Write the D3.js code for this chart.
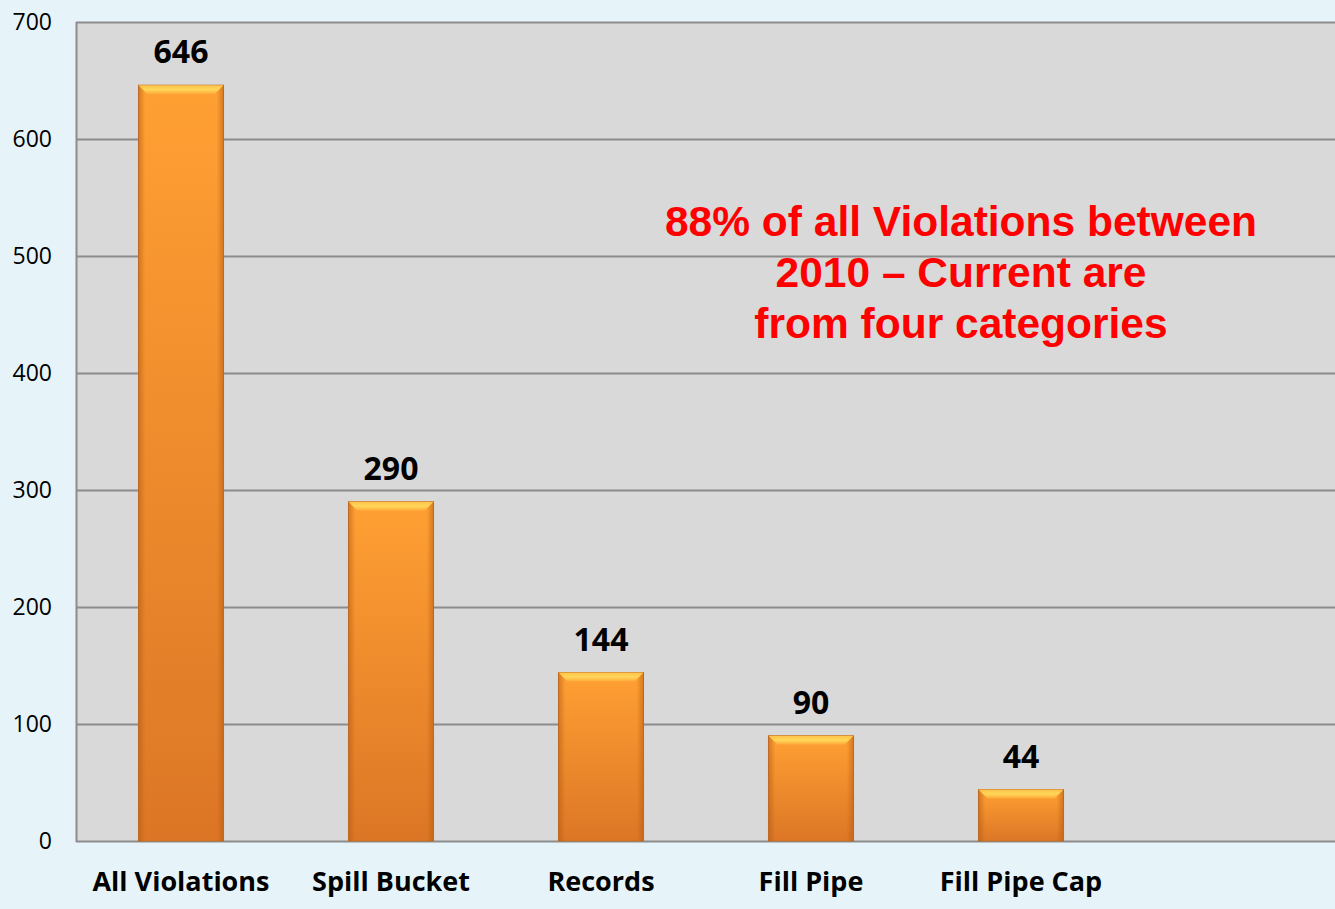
<!DOCTYPE html>
<html>
<head>
<meta charset="utf-8">
<script src="https://cdn.jsdelivr.net/npm/d3@7"></script>
<style>
  body { margin: 0; background: #e6f4fa; }
  svg { display: block; }
</style>
</head>
<body>
<script>
// chart data
const categories = ['All Violations', 'Spill Bucket', 'Records', 'Fill Pipe', 'Fill Pipe Cap'];
const counts = [646, 290, 144, 90, 44];
const yTicks = [0, 100, 200, 300, 400, 500, 600, 700];
const noteLines = ['88% of all Violations between', '2010 \u2013 Current are', 'from four categories'];

const w = 1335;
const h = 909;
const margin = { left: 76, top: 22, bottom: 68 };
const step = 210;

const svg = d3.select('body')
  .append('svg')
  .attr('width', w)
  .attr('height', h);

// gradients for the bars
const defs = svg.append('defs');
const vert = defs.append('linearGradient')
  .attr('id', 'barFill')
  .attr('x1', 0).attr('y1', 0).attr('x2', 0).attr('y2', 1);
vert.append('stop').attr('offset', '0%').attr('stop-color', '#ffa033');
vert.append('stop').attr('offset', '100%').attr('stop-color', '#dc7626');

const sides = defs.append('linearGradient')
  .attr('id', 'barSides')
  .attr('x1', 0).attr('y1', 0).attr('x2', 1).attr('y2', 0);
sides.append('stop').attr('offset', '0%').attr('stop-color', '#b35a10').attr('stop-opacity', 0.55);
sides.append('stop').attr('offset', '8%').attr('stop-color', '#b35a10').attr('stop-opacity', 0);
sides.append('stop').attr('offset', '92%').attr('stop-color', '#b35a10').attr('stop-opacity', 0);
sides.append('stop').attr('offset', '100%').attr('stop-color', '#b35a10').attr('stop-opacity', 0.55);

const bevel = defs.append('linearGradient')
  .attr('id', 'bevelFill')
  .attr('x1', 0).attr('y1', 0).attr('x2', 0).attr('y2', 1);
bevel.append('stop').attr('offset', '0%').attr('stop-color', '#ffc24a');
bevel.append('stop').attr('offset', '50%').attr('stop-color', '#ffd75a');
bevel.append('stop').attr('offset', '100%').attr('stop-color', '#ffa838');

const x = d3.scaleBand()
  .domain(categories)
  .range([margin.left, margin.left + step * categories.length])
  .paddingInner(0.595)
  .paddingOuter(0.2975);

const y = d3.scaleLinear()
  .domain([0, 700])
  .range([h - margin.bottom, margin.top]);

// plot background
svg.append('rect')
  .attr('x', margin.left)
  .attr('y', y(700))
  .attr('width', w - margin.left)
  .attr('height', y(0) - y(700))
  .attr('fill', '#d9d9d9');

// grid lines
svg.append('g')
  .selectAll('line')
  .data(yTicks)
  .enter()
  .append('line')
  .attr('x1', margin.left)
  .attr('x2', w)
  .attr('y1', d => y(d) + 0.5)
  .attr('y2', d => y(d) + 0.5)
  .attr('stroke', '#8c8c8c')
  .attr('stroke-width', 2);

svg.append('line')
  .attr('x1', margin.left + 0.5)
  .attr('x2', margin.left + 0.5)
  .attr('y1', y(700))
  .attr('y2', y(0) + 1)
  .attr('stroke', '#8c8c8c')
  .attr('stroke-width', 2);

// y axis labels
const yAxis = d3.axisLeft(y)
  .tickValues(yTicks)
  .tickSize(0)
  .tickPadding(24);

svg.append('g')
  .attr('transform', `translate(${margin.left},0)`)
  .call(yAxis)
  .call(g => g.select('.domain').remove())
  .selectAll('text')
  .attr('font-family', 'Open Sans, sans-serif')
  .attr('font-size', 23)
  .attr('fill', '#000');

// bars
const bar = svg.append('g')
  .selectAll('g')
  .data(categories)
  .enter()
  .append('g');

bar.append('rect')
  .attr('x', d => x(d))
  .attr('y', (d, i) => y(counts[i]))
  .attr('width', x.bandwidth())
  .attr('height', (d, i) => y(0) - y(counts[i]))
  .attr('fill', 'url(#barFill)')
  .attr('stroke', '#c0702a')
  .attr('stroke-width', 1);

bar.append('rect')
  .attr('x', d => x(d))
  .attr('y', (d, i) => y(counts[i]))
  .attr('width', x.bandwidth())
  .attr('height', (d, i) => y(0) - y(counts[i]))
  .attr('fill', 'url(#barSides)');

// top bevel
bar.append('path')
  .attr('d', (d, i) => {
    const x0 = x(d);
    const x1 = x0 + x.bandwidth();
    const t = y(counts[i]);
    return `M${x0},${t}L${x1},${t}L${x1 - 9},${t + 9}L${x0 + 9},${t + 9}Z`;
  })
  .attr('fill', 'url(#bevelFill)');

// value labels
bar.append('text')
  .attr('x', d => x(d) + x.bandwidth() / 2)
  .attr('y', (d, i) => y(counts[i]) - 22)
  .attr('text-anchor', 'middle')
  .attr('font-family', 'Open Sans, sans-serif')
  .attr('font-weight', 'bold')
  .attr('font-size', 32)
  .text((d, i) => counts[i]);

// category labels
bar.append('text')
  .attr('x', d => x(d) + x.bandwidth() / 2)
  .attr('y', y(0) + 50)
  .attr('text-anchor', 'middle')
  .attr('font-family', 'Open Sans, sans-serif')
  .attr('font-weight', 'bold')
  .attr('font-size', 27)
  .text(d => d);

// annotation
svg.append('text')
  .attr('x', 961)
  .attr('y', 236)
  .attr('text-anchor', 'middle')
  .attr('font-family', 'Liberation Sans, Arial, sans-serif')
  .attr('font-weight', 'bold')
  .attr('font-size', 42.5)
  .attr('fill', '#ff0000')
  .selectAll('tspan')
  .data(noteLines)
  .enter()
  .append('tspan')
  .attr('x', 961)
  .attr('dy', (d, i) => i === 0 ? 0 : 51)
  .text(d => d);
</script>
</body>
</html>
